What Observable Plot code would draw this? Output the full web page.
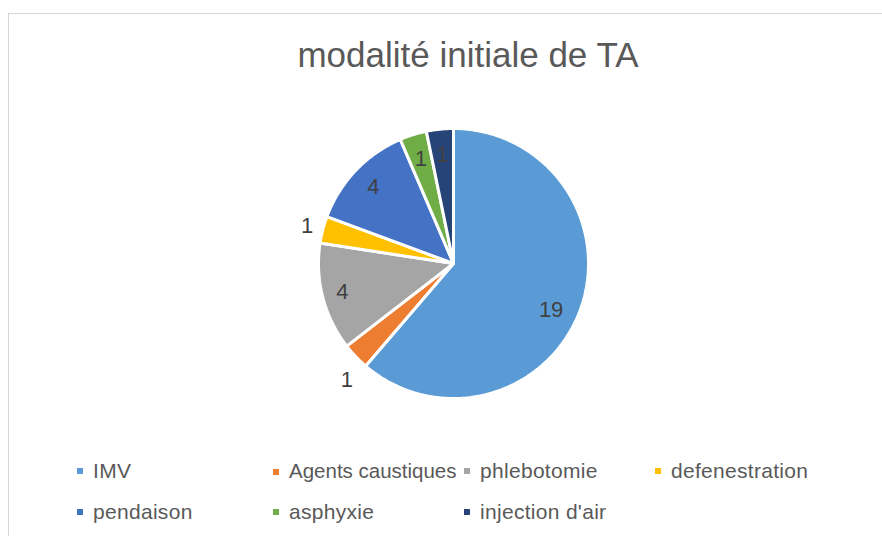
<!DOCTYPE html>
<html><head><meta charset="utf-8">
<script src="https://cdn.jsdelivr.net/npm/d3@7"></script>
<script src="https://cdn.jsdelivr.net/npm/@observablehq/plot@0.6"></script>
<style>
body{margin:0;background:#fff;}
#frame{position:relative;width:882px;height:536px;overflow:hidden;font-family:"Liberation Sans",Arial,sans-serif;}
#border{position:absolute;left:8px;top:13px;width:900px;height:600px;border:1px solid #d6d6d6;box-sizing:border-box;}
#title{position:absolute;top:35px;left:0;width:936px;text-align:center;font-size:35px;color:#595959;line-height:40px;white-space:nowrap;}
#chart{position:absolute;left:0;top:0;}
.leg{position:absolute;font-size:21px;letter-spacing:0.3px;color:#595959;white-space:nowrap;overflow:hidden;line-height:24px;}
.sw{display:inline-block;width:6px;height:6px;margin-right:10px;vertical-align:middle;position:relative;top:-1px;}
</style></head>
<body>
<div id="frame">
  <div id="border"></div>
  <div id="title">modalité initiale de TA</div>
  <div id="chart"></div>
  <div id="legend"></div>
</div>
<script>
const title = "modalité initiale de TA";
const categories = ["IMV","Agents caustiques","phlebotomie","defenestration","pendaison","asphyxie","injection d'air"];
const values = [19,1,4,1,4,1,1];
const colors = ["#5B9BD5","#ED7D31","#A5A5A5","#FFC000","#4472C4","#70AD47","#264478"];
const labelRadius = [0.8,1.17,0.85,1.12,0.82,0.81,0.81];
const labelAngleShift = [5,-4,0,0,0,0,0];

// layout
const W = 882, H = 536, cx = 453, cy = 263, R = 135;
const legendCols = [77, 273, 464, 655];
const legendRows = [459, 500];

const pie = d3.pie().sort(null).startAngle(0).endAngle(2*Math.PI)(values);
const pts = [];
const labels = [];
pie.forEach((p, i) => {
  const cat = categories[i];
  pts.push({cat, x: 0, y: 0});
  const n = Math.max(2, Math.ceil((p.endAngle - p.startAngle) / (Math.PI/180)));
  for (let k = 0; k <= n; k++) {
    const a = p.startAngle + (p.endAngle - p.startAngle) * k / n;
    pts.push({cat, x: Math.sin(a), y: Math.cos(a)});
  }
  pts.push({cat, x: 0, y: 0});
  const m = (p.startAngle + p.endAngle)/2 + labelAngleShift[i]*Math.PI/180;
  labels.push({cat, v: values[i], x: labelRadius[i]*Math.sin(m), y: labelRadius[i]*Math.cos(m)});
});

const chart = Plot.plot({
  width: W, height: H,
  marginTop: 0, marginRight: 0, marginBottom: 0, marginLeft: 0,
  x: {domain: [(0-cx)/R, (W-cx)/R], axis: null},
  y: {domain: [(cy-H)/R, cy/R], axis: null},
  color: {domain: categories, range: colors},
  style: {background: "transparent", fontFamily: "'Liberation Sans', Arial, sans-serif"},
  marks: [
    Plot.line(pts, {x: "x", y: "y", z: "cat", fill: "cat", stroke: "white", strokeWidth: 3, strokeLinejoin: "miter", curve: "linear"}),
    Plot.text(labels, {x: "x", y: "y", text: d => String(d.v), fill: "#404040", fontSize: 22})
  ]
});
document.getElementById("chart").appendChild(chart);

const leg = document.getElementById("legend");
categories.forEach((c, i) => {
  const col = i % 4, row = Math.floor(i / 4);
  const d = document.createElement("div");
  d.className = "leg";
  d.style.left = legendCols[col] + "px";
  d.style.top = legendRows[row] + "px";
  const next = col < 3 ? legendCols[col+1] : W;
  d.style.width = (next - legendCols[col] - 6) + "px";
  const sw = document.createElement("span");
  sw.className = "sw";
  sw.style.background = colors[i];
  d.appendChild(sw);
  d.appendChild(document.createTextNode(c));
  leg.appendChild(d);
  // shrink to fit rather than clip
  if (d.scrollWidth > d.clientWidth) {
    d.style.letterSpacing = "0px";
    let fs = 21;
    while (d.scrollWidth > d.clientWidth && fs > 12) {
      fs -= 0.5;
      d.style.fontSize = fs + "px";
    }
  }
});
</script>
</body></html>
